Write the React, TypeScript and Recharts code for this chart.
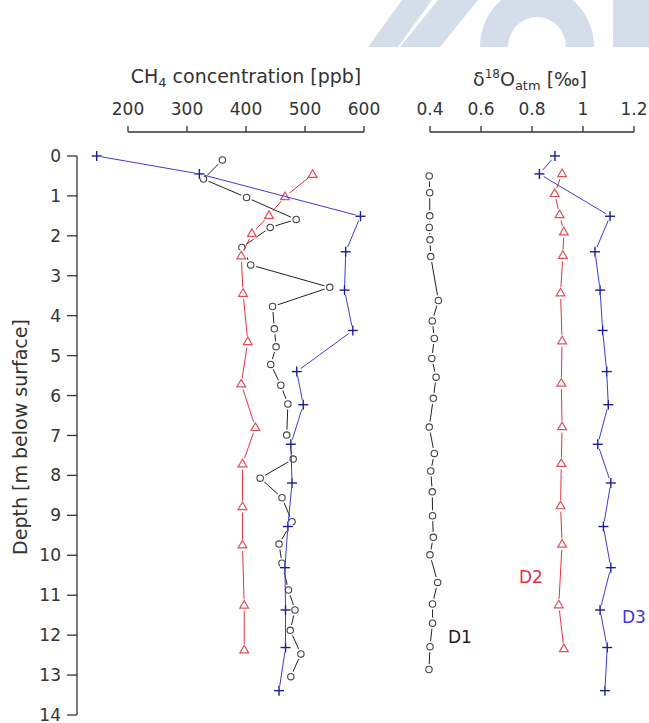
import React from 'react';
import { ComposedChart, Scatter, XAxis, YAxis, ReferenceLine } from 'recharts';

// depth [m] and value arrays per core
const CH4_D1_DEPTH = [0.1, 0.58, 1.04, 1.59, 1.79, 2.29, 2.73, 3.29, 3.77, 4.33, 4.78, 5.22, 5.74, 6.21, 6.99, 7.59, 8.07, 8.56, 9.16, 9.72, 10.2, 10.87, 11.37, 11.88, 12.47, 13.04];
const CH4_D1 = [360, 328, 401, 485, 441, 393, 408, 542, 445, 448, 451, 442, 459, 471, 469, 480, 424, 461, 478, 456, 461, 472, 483, 475, 493, 476];

const CH4_D2_DEPTH = [0.46, 1.02, 1.49, 1.94, 2.5, 3.44, 4.65, 5.71, 6.8, 7.71, 8.78, 9.74, 11.25, 12.37];
const CH4_D2 = [513, 466, 439, 410, 392, 395, 403, 392, 416, 394, 394, 394, 397, 397];

const D3_DEPTH = [0, 0.45, 1.51, 2.4, 3.36, 4.37, 5.4, 6.23, 7.22, 8.19, 9.28, 10.31, 11.37, 12.31, 13.39];
const CH4_D3 = [147, 321, 594, 569, 567, 581, 486, 497, 476, 478, 471, 466, 467, 467, 456];

const O18_D1_DEPTH = [0.5, 0.92, 1.5, 1.79, 2.1, 2.52, 3.62, 4.13, 4.57, 5.07, 5.54, 6.07, 6.79, 7.45, 7.89, 8.41, 9.01, 9.55, 9.99, 10.68, 11.22, 11.7, 12.29, 12.86];
const O18_D1 = [0.397, 0.399, 0.399, 0.397, 0.4, 0.403, 0.433, 0.409, 0.417, 0.407, 0.424, 0.413, 0.397, 0.417, 0.403, 0.409, 0.41, 0.413, 0.4, 0.43, 0.41, 0.41, 0.4, 0.396];

const O18_D2_DEPTH = [0.44, 0.94, 1.47, 1.9, 2.49, 3.43, 4.63, 5.69, 6.78, 7.7, 8.76, 9.72, 11.24, 12.34];
const O18_D2 = [0.918, 0.889, 0.908, 0.925, 0.921, 0.912, 0.918, 0.915, 0.918, 0.915, 0.912, 0.918, 0.905, 0.925];

const O18_D3 = [0.89, 0.829, 1.106, 1.047, 1.067, 1.077, 1.093, 1.099, 1.058, 1.109, 1.08, 1.109, 1.067, 1.095, 1.086];

const DEPTH_TICKS = [0, 1, 2, 3, 4, 5, 6, 7, 8, 9, 10, 11, 12, 13, 14];
const CH4_TICKS = [200, 300, 400, 500, 600];
const O18_TICKS = [0.4, 0.6, 0.8, 1, 1.2];

const FONT = '"DejaVu Sans", sans-serif';
const AXIS = '#333';
const BLACK = { line: '#222', mark: '#444' };
const RED = { line: '#e2323c', mark: '#e0505a' };
const BLUE = { line: '#3b3bd6', mark: '#1c1c96' };

const DEPTH_DOMAIN: [number, number] = [-0.6, 14];

const pts = (depth: number[], vals: number[]) => depth.map((d, i) => ({ d, v: vals[i] }));

const CircleMark = (color: string) => (p: any) => (
  <g>
    <circle cx={p.cx} cy={p.cy} r={5.6} fill="#fff" />
    <circle cx={p.cx} cy={p.cy} r={3.2} fill="none" stroke={color} strokeWidth={1.1} />
  </g>
);

const TriMark = (color: string) => (p: any) => (
  <g>
    <circle cx={p.cx} cy={p.cy} r={6} fill="#fff" />
    <polygon
      points={`${p.cx},${p.cy - 4.6} ${p.cx - 4.4},${p.cy + 3} ${p.cx + 4.4},${p.cy + 3}`}
      fill="none"
      stroke={color}
      strokeWidth={1.2}
    />
  </g>
);

const PlusMark = (color: string) => (p: any) => (
  <g stroke={color} strokeWidth={1.4}>
    <circle cx={p.cx} cy={p.cy} r={5} fill="#fff" stroke="none" />
    <line x1={p.cx - 5} y1={p.cy} x2={p.cx + 5} y2={p.cy} />
    <line x1={p.cx} y1={p.cy - 5} x2={p.cx} y2={p.cy + 5} />
  </g>
);

const tickStyle = { fill: AXIS, fontSize: 17, fontFamily: FONT };

interface PanelProps {
  width: number;
  margin: { top: number; right: number; bottom: number; left: number };
  xDomain: [number, number];
  xTicks: number[];
  depthAxis: boolean;
  d1: { d: number; v: number }[];
  d2: { d: number; v: number }[];
  d3: { d: number; v: number }[];
}

function Panel({ width, margin, xDomain, xTicks, depthAxis, d1, d2, d3 }: PanelProps) {
  return (
    <ComposedChart width={width} height={723} margin={margin}>
      <XAxis
        type="number"
        dataKey="v"
        orientation="top"
        domain={xDomain}
        allowDataOverflow
        ticks={xTicks}
        height={40}
        axisLine={false}
        tickLine={{ stroke: AXIS, strokeWidth: 1.3 }}
        tickSize={6}
        tickMargin={11}
        tick={tickStyle}
        interval={0}
      />
      <YAxis
        type="number"
        dataKey="d"
        domain={DEPTH_DOMAIN}
        allowDataOverflow
        reversed
        ticks={DEPTH_TICKS}
        hide={!depthAxis}
        width={77}
        axisLine={false}
        tickLine={{ stroke: AXIS, strokeWidth: 1.3 }}
        tickSize={10}
        tickMargin={6}
        tick={tickStyle}
        interval={0}
      />
      <ReferenceLine
        segment={[{ x: xTicks[0], y: DEPTH_DOMAIN[0] }, { x: xTicks[xTicks.length - 1], y: DEPTH_DOMAIN[0] }]}
        stroke={AXIS}
        strokeWidth={1.3}
        ifOverflow="visible"
      />
      {depthAxis && (
        <ReferenceLine
          segment={[{ x: xDomain[0], y: DEPTH_TICKS[0] }, { x: xDomain[0], y: DEPTH_TICKS[DEPTH_TICKS.length - 1] }]}
          stroke={AXIS}
          strokeWidth={1.3}
          ifOverflow="visible"
        />
      )}
      <Scatter data={d1} line={{ stroke: BLACK.line, strokeWidth: 1 }} shape={CircleMark(BLACK.mark)} isAnimationActive={false} />
      <Scatter data={d2} line={{ stroke: RED.line, strokeWidth: 1 }} shape={TriMark(RED.mark)} isAnimationActive={false} />
      <Scatter data={d3} line={{ stroke: BLUE.line, strokeWidth: 1 }} shape={PlusMark(BLUE.mark)} isAnimationActive={false} />
    </ComposedChart>
  );
}

export default function App() {
  return (
    <div style={{ position: 'absolute', left: 0, top: 0, width: 649, height: 723, background: '#fff', fontFamily: FONT }}>
      {/* faint logo in the top right corner */}
      <svg width={649} height={723} style={{ position: 'absolute', left: 0, top: 0 }}>
        <g fill="#d3deea">
          <polygon points="368,47 398,47 432,0 402,0" />
          <polygon points="400,47 440,47 478,0 438,0" />
          <path d="M480,47 A57,60 0 0 1 594,47 L566,47 A29,30 0 0 0 508,47 Z" />
          <rect x={613} y={0} width={36} height={47} />
        </g>
      </svg>
      <div style={{ position: 'absolute', left: 0, top: 0 }}>
        <Panel
          width={390}
          margin={{ top: 92, right: 10, bottom: 8, left: 0 }}
          xDomain={[113.6, 627.1]}
          xTicks={CH4_TICKS}
          depthAxis
          d1={pts(CH4_D1_DEPTH, CH4_D1)}
          d2={pts(CH4_D2_DEPTH, CH4_D2)}
          d3={pts(D3_DEPTH, CH4_D3)}
        />
      </div>
      <div style={{ position: 'absolute', left: 390, top: 0 }}>
        <Panel
          width={259}
          margin={{ top: 92, right: 4, bottom: 8, left: 10 }}
          xDomain={[0.2824, 1.2431]}
          xTicks={O18_TICKS}
          depthAxis={false}
          d1={pts(O18_D1_DEPTH, O18_D1)}
          d2={pts(O18_D2_DEPTH, O18_D2)}
          d3={pts(D3_DEPTH, O18_D3)}
        />
      </div>
      <svg width={649} height={723} style={{ position: 'absolute', left: 0, top: 0, pointerEvents: 'none' }} fontFamily={FONT}>
        <text x={246} y={83} textAnchor="middle" fontSize={19} fill="#333">
          CH<tspan fontSize={13} dy={4}>4</tspan>
          <tspan dy={-4}> concentration [ppb]</tspan>
        </text>
        <text x={530} y={86} textAnchor="middle" fontSize={19} fill="#333">
          δ<tspan fontSize={12} dy={-8}>18</tspan>
          <tspan dy={8}>O</tspan>
          <tspan fontSize={13} dy={4}>atm</tspan>
          <tspan dy={-4}> [‰]</tspan>
        </text>
        <text x={27} y={437} textAnchor="middle" fontSize={19} fill="#333" transform="rotate(-90, 27, 437)">
          Depth [m below surface]
        </text>
        <text x={448} y={643} fontSize={17} fill="#222">D1</text>
        <text x={519} y={583} fontSize={17} fill={RED.line}>D2</text>
        <text x={622} y={623} fontSize={17} fill={BLUE.line}>D3</text>
      </svg>
    </div>
  );
}
